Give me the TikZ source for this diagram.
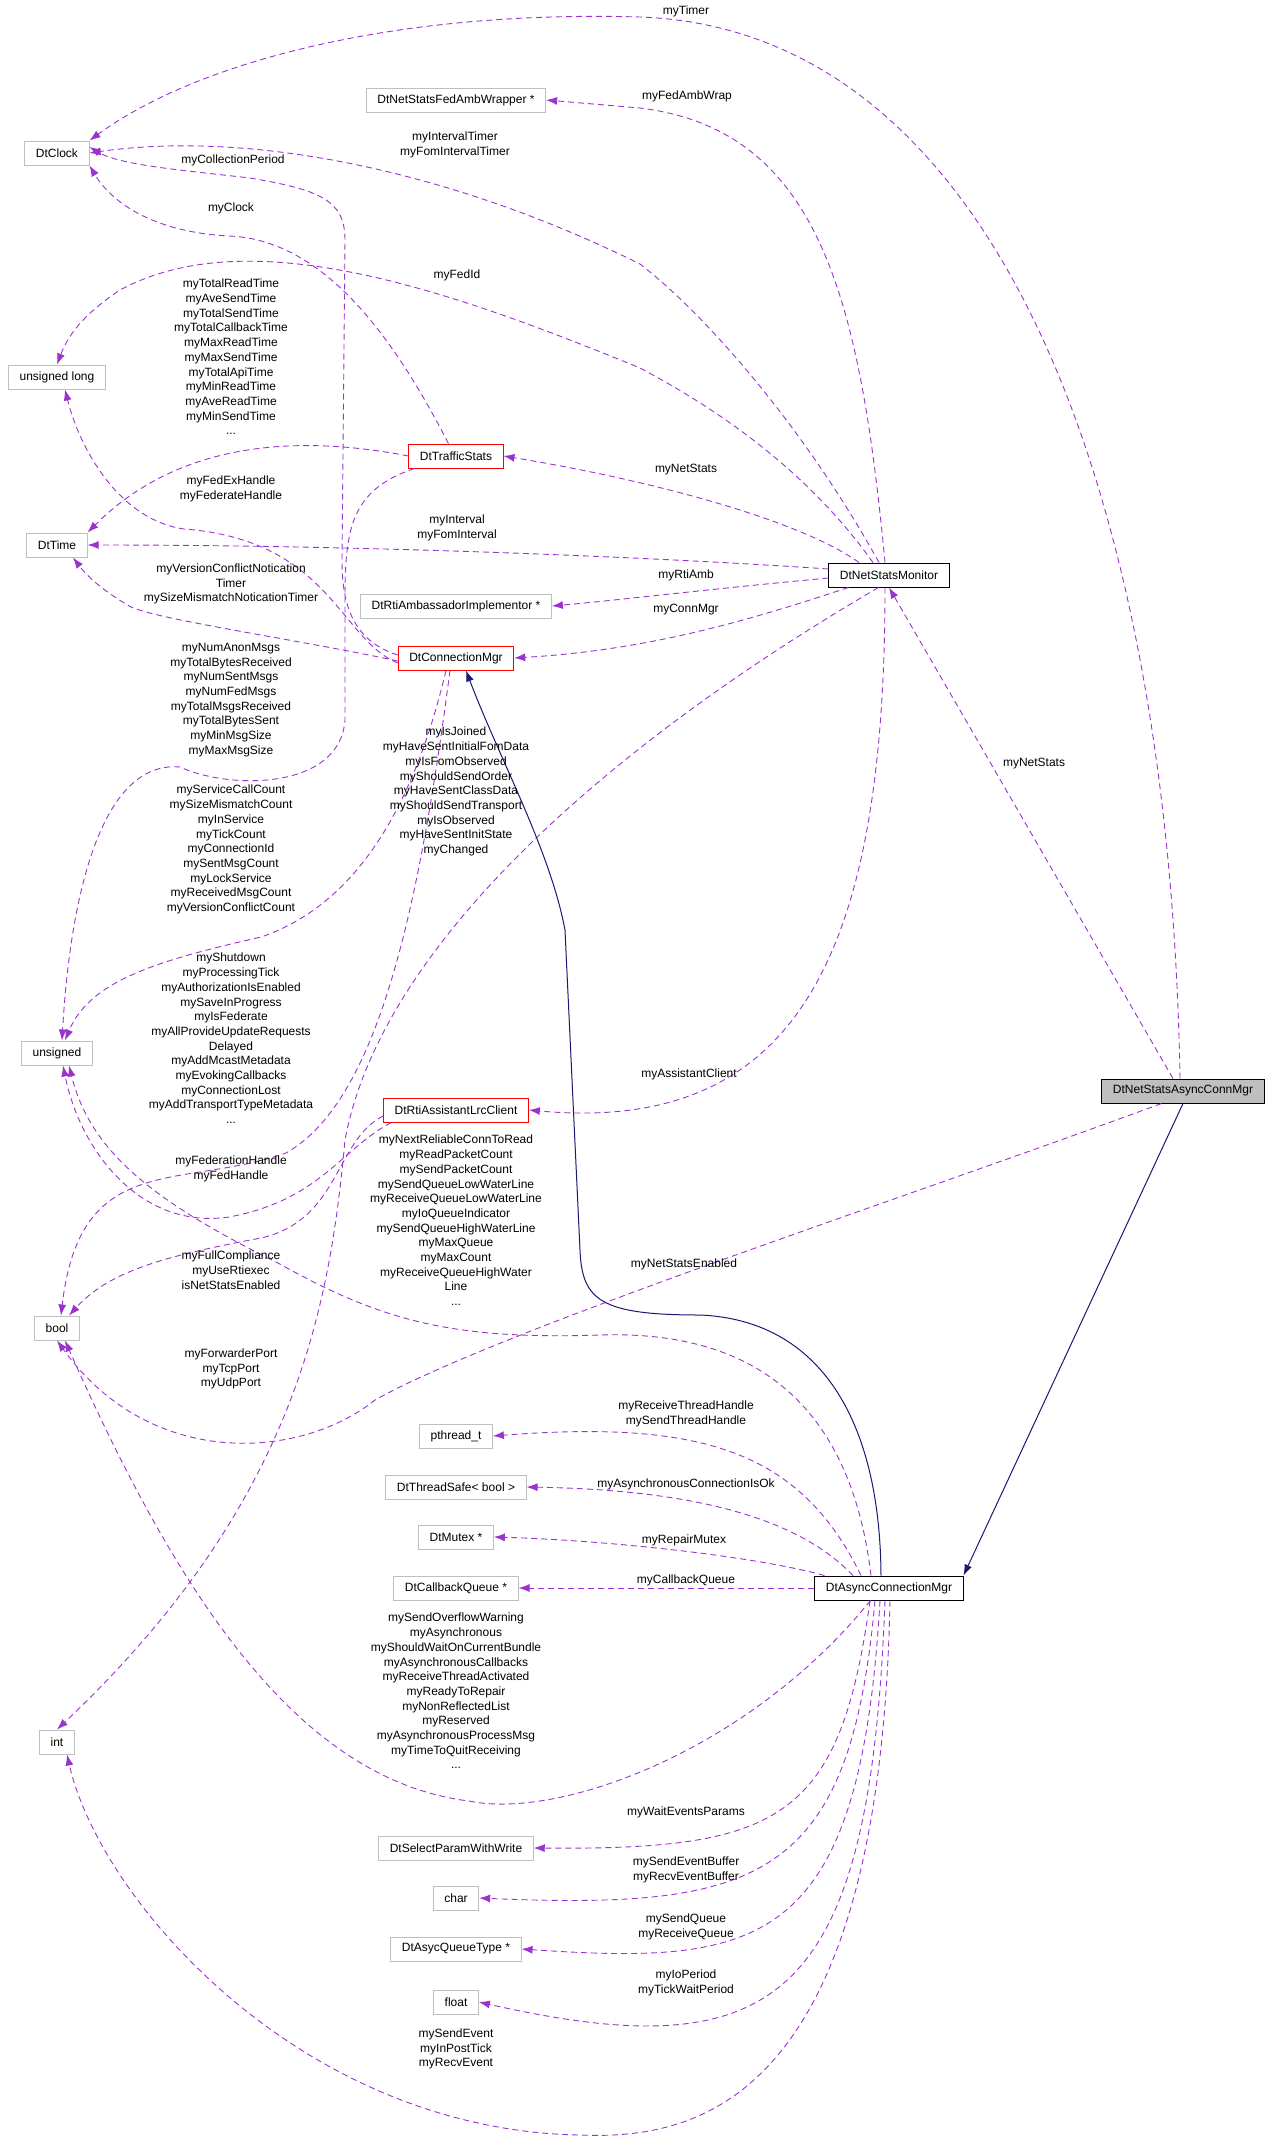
\documentclass[tikz,border=0pt]{standalone}
\usepackage{fontspec}
\setmainfont{Liberation Sans}
\usetikzlibrary{arrows.meta}
\definecolor{dep}{HTML}{9A32CD}
\definecolor{inh}{HTML}{191970}
\begin{document}
\begin{tikzpicture}[x=1pt,y=-1pt,
  font=\fontsize{12}{14.7}\selectfont,
  box/.style={draw=gray!50,line width=1pt,inner xsep=11pt,inner ysep=0pt,minimum height=24pt,fill=white},
  red/.style={box,draw=red},
  blk/.style={box,draw=black},
  dep/.style={draw=dep,dashed,dash pattern=on 6pt off 4pt,line width=0.9pt,-{Latex[length=11pt,width=8pt]}},
  inh/.style={draw=inh,line width=1pt,-{Latex[length=11pt,width=8pt]}},
  lbl/.style={align=center,inner sep=0pt}]
\useasboundingbox (0,0) rectangle (1277,2141);
% nodes
\node[box] (clock) at (57,153) {DtClock};
\node[box] (fedamb) at (456,100) {DtNetStatsFedAmbWrapper *};
\node[box] (ulong) at (57,377) {unsigned long};
\node[red] (ts) at (456,456) {DtTrafficStats};
\node[box] (time) at (57,545) {DtTime};
\node[box] (rtiamb) at (456,606) {DtRtiAmbassadorImplementor *};
\node[red] (cm) at (456,658) {DtConnectionMgr};
\node[blk] (mon) at (889,575) {DtNetStatsMonitor};
\node[box] (uns) at (57,1053) {unsigned};
\node[red] (lrc) at (456,1110) {DtRtiAssistantLrcClient};
\node[box] (bool) at (57,1328) {bool};
\node[blk,fill=gray!50] (a) at (1183,1091) {DtNetStatsAsyncConnMgr};
\node[box] (pth) at (456,1436) {pthread\_t};
\node[box] (tsafe) at (456,1487) {DtThreadSafe< bool >};
\node[box] (mtx) at (456,1537) {DtMutex *};
\node[box] (cbq) at (456,1588) {DtCallbackQueue *};
\node[blk] (d) at (889,1588) {DtAsyncConnectionMgr};
\node[box] (int) at (57,1742) {int};
\node[box] (sel) at (456,1848) {DtSelectParamWithWrite};
\node[box] (char) at (456,1898) {char};
\node[box] (aq) at (456,1949) {DtAsycQueueType *};
\node[box] (flt) at (456,2002) {float};
% A edges
\draw[dep] (a.north) ++(-3,0) .. controls (1170,500) and (1000,30) .. (640,17) .. controls (400,10) and (200,60) .. (clock.north east);
\draw[dep] (a.north) ++(-10,0) -- (mon.south);
\draw[inh] (a.south) -- (d.north east);
\draw[dep] (a.south west) ++(60,0) .. controls (900,1200) and (500,1330) .. (375,1400) .. controls (300,1460) and (150,1470) .. (bool.south);
% monitor edges
\draw[dep] (mon.north) ++(-10,0) .. controls (800,420) and (700,310) .. (640,264) .. controls (450,170) and (250,130) .. (clock.east);
\draw[dep] (mon.north) ++(-4,0) .. controls (860,300) and (820,130) .. (640,108) -- (fedamb.east);
\draw[dep] (mon.north) ++(-16,0) .. controls (800,460) and (700,400) .. (640,368) .. controls (450,290) and (250,220) .. (120,290) .. controls (90,310) and (70,330) .. (ulong.north);
\draw[dep] (mon.north) ++(-30,0) .. controls (800,520) and (650,480) .. (ts.east);
\draw[dep] (mon.west) ++(0,-6) .. controls (700,560) and (400,545) .. (time.east);
\draw[dep] (mon.west) ++(0,3) .. controls (700,590) and (620,600) .. (rtiamb.east);
\draw[dep] (mon.south west) ++(20,0) .. controls (750,620) and (650,650) .. (cm.east);
\draw[dep] (mon.south) ++(-4,0) .. controls (885,950) and (800,1135) .. (lrc.east);
\draw[dep] (mon.south west) ++(50,0) .. controls (600,750) and (380,950) .. (345,1140) .. controls (330,1300) and (300,1500) .. (int.north);
% traffic stats
\draw[dep] (ts.north west) ++(40,0) .. controls (400,350) and (330,240) .. (229,236) .. controls (150,232) and (110,200) .. (clock.south east);
\draw[dep] (ts.west) .. controls (300,435) and (180,440) .. (time.north east);
\draw[dep] (ts.south west) ++(6,0) .. controls (350,490) and (345,530) .. (345,600) -- (345,720) .. controls (340,790) and (230,790) .. (180,767) .. controls (100,760) and (70,900) .. ([xshift=5pt]uns.north);
% connection mgr
\draw[dep] (cm.west) ++(0,-3) .. controls (350,640) and (342,600) .. (342,560) -- (345,240) .. controls (345,200) and (320,190) .. (250,178) .. controls (180,170) and (120,165) .. ([yshift=6pt]clock.east);
\draw[dep] (cm.west) ++(0,5) .. controls (340,640) and (330,540) .. (184,529) .. controls (120,520) and (80,450) .. ([xshift=8pt]ulong.south);
\draw[dep] (cm.west) ++(0,3) .. controls (300,640) and (160,620) .. (131,607) .. controls (110,595) and (90,580) .. ([xshift=16pt]time.south);
\draw[dep] (cm.south) ++(-10,0) .. controls (420,780) and (370,900) .. (261,937) .. controls (160,960) and (90,980) .. ([xshift=8pt]uns.north);
\draw[dep] (cm.south) ++(-6,0) .. controls (420,900) and (380,1100) .. (286,1153) .. controls (180,1190) and (80,1150) .. ([xshift=4pt]bool.north);
\draw[inh] (d.north) ++(-8,0) .. controls (880,1420) and (820,1320) .. (700,1315) .. controls (600,1315) and (582,1300) .. (580,1250) -- (565,930) .. controls (550,850) and (500,760) .. ([xshift=10pt]cm.south);
% lrc
\draw[dep] (lrc.south west) ++(8,0) .. controls (340,1150) and (320,1200) .. (229,1217) .. controls (140,1230) and (80,1150) .. ([xshift=6pt]uns.south);
\draw[dep] (lrc.west) ++(0,6) .. controls (335,1140) and (340,1220) .. (261,1238) .. controls (170,1255) and (110,1270) .. ([xshift=12pt]bool.north);
% async connection mgr
\draw[dep] (d.north) ++(-18,0) .. controls (850,1400) and (750,1330) .. (600,1335) .. controls (450,1340) and (380,1320) .. (278,1263) .. controls (150,1200) and (90,1150) .. ([xshift=12pt]uns.south);
\draw[dep] (d.north) ++(-28,0) .. controls (800,1450) and (700,1420) .. (pth.east);
\draw[dep] (d.north) ++(-36,0) .. controls (800,1520) and (700,1490) .. (tsafe.east);
\draw[dep] (d.north west) ++(10,0) .. controls (750,1555) and (600,1540) .. (mtx.east);
\draw[dep] (d.west) -- (cbq.east);
\draw[dep] (d.south west) ++(56,0) .. controls (750,1750) and (560,1820) .. (469,1801) .. controls (300,1780) and (180,1600) .. ([xshift=8pt]bool.south);
\draw[dep] (d.south) ++(-19,0) .. controls (840,1820) and (780,1850) .. (sel.east);
\draw[dep] (d.south) ++(-14,0) .. controls (850,1880) and (760,1910) .. (char.east);
\draw[dep] (d.south) ++(-9,0) .. controls (860,1950) and (760,1965) .. (aq.east);
\draw[dep] (d.south) ++(-4,0) .. controls (870,2000) and (780,2070) .. (flt.east);
\draw[dep] (d.south) ++(1,0) .. controls (880,2100) and (700,2140) .. (580,2135) .. controls (300,2130) and (100,1900) .. ([xshift=10pt]int.south);
% labels
\node[lbl] at (686,11) {myTimer};
\node[lbl] at (687,96) {myFedAmbWrap};
\node[lbl] at (455,145) {myIntervalTimer\\myFomIntervalTimer};
\node[lbl] at (233,160) {myCollectionPeriod};
\node[lbl] at (231,208) {myClock};
\node[lbl] at (457,275) {myFedId};
\node[lbl,anchor=north] at (231,279) {myTotalReadTime\\myAveSendTime\\myTotalSendTime\\myTotalCallbackTime\\myMaxReadTime\\myMaxSendTime\\myTotalApiTime\\myMinReadTime\\myAveReadTime\\myMinSendTime\\...};
\node[lbl] at (686,470) {myNetStats};
\node[lbl] at (231,489) {myFedExHandle\\myFederateHandle};
\node[lbl] at (457,528) {myInterval\\myFomInterval};
\node[lbl] at (686,575) {myRtiAmb};
\node[lbl] at (231,584) {myVersionConflictNotication\\Timer\\mySizeMismatchNoticationTimer};
\node[lbl] at (686,610) {myConnMgr};
\node[lbl,anchor=north] at (231,643) {myNumAnonMsgs\\myTotalBytesReceived\\myNumSentMsgs\\myNumFedMsgs\\myTotalMsgsReceived\\myTotalBytesSent\\myMinMsgSize\\myMaxMsgSize};
\node[lbl,anchor=north] at (456,727) {myIsJoined\\myHaveSentInitialFomData\\myIsFomObserved\\myShouldSendOrder\\myHaveSentClassData\\myShouldSendTransport\\myIsObserved\\myHaveSentInitState\\myChanged};
\node[lbl] at (1034,764) {myNetStats};
\node[lbl,anchor=north] at (231,785) {myServiceCallCount\\mySizeMismatchCount\\myInService\\myTickCount\\myConnectionId\\mySentMsgCount\\myLockService\\myReceivedMsgCount\\myVersionConflictCount};
\node[lbl,anchor=north] at (231,953) {myShutdown\\myProcessingTick\\myAuthorizationIsEnabled\\mySaveInProgress\\myIsFederate\\myAllProvideUpdateRequests\\Delayed\\myAddMcastMetadata\\myEvokingCallbacks\\myConnectionLost\\myAddTransportTypeMetadata\\...};
\node[lbl] at (689,1074) {myAssistantClient};
\node[lbl,anchor=north] at (456,1135) {myNextReliableConnToRead\\myReadPacketCount\\mySendPacketCount\\mySendQueueLowWaterLine\\myReceiveQueueLowWaterLine\\myIoQueueIndicator\\mySendQueueHighWaterLine\\myMaxQueue\\myMaxCount\\myReceiveQueueHighWater\\Line\\...};
\node[lbl] at (231,1169) {myFederationHandle\\myFedHandle};
\node[lbl] at (231,1270) {myFullCompliance\\myUseRtiexec\\isNetStatsEnabled};
\node[lbl] at (684,1264) {myNetStatsEnabled};
\node[lbl] at (231,1369) {myForwarderPort\\myTcpPort\\myUdpPort};
\node[lbl] at (686,1414) {myReceiveThreadHandle\\mySendThreadHandle};
\node[lbl] at (686,1484) {myAsynchronousConnectionIsOk};
\node[lbl] at (684,1540) {myRepairMutex};
\node[lbl] at (686,1580) {myCallbackQueue};
\node[lbl,anchor=north] at (456,1613) {mySendOverflowWarning\\myAsynchronous\\myShouldWaitOnCurrentBundle\\myAsynchronousCallbacks\\myReceiveThreadActivated\\myReadyToRepair\\myNonReflectedList\\myReserved\\myAsynchronousProcessMsg\\myTimeToQuitReceiving\\...};
\node[lbl] at (686,1812) {myWaitEventsParams};
\node[lbl] at (686,1870) {mySendEventBuffer\\myRecvEventBuffer};
\node[lbl] at (686,1927) {mySendQueue\\myReceiveQueue};
\node[lbl] at (686,1983) {myIoPeriod\\myTickWaitPeriod};
\node[lbl] at (456,2049) {mySendEvent\\myInPostTick\\myRecvEvent};
\end{tikzpicture}
\end{document}
